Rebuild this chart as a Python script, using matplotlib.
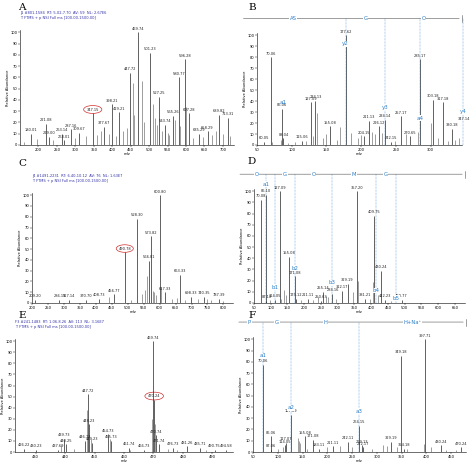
import matplotlib
matplotlib.use("Agg")
import matplotlib.pyplot as plt
from matplotlib.patches import Ellipse

# ---------------- data ----------------
A_mz = [180.01, 221.08, 229.00, 263.14, 268.01, 287.16, 309.67, 347.15, 377.67, 398.21, 419.21, 447.72, 469.74, 501.23, 527.25, 543.74, 565.26, 580.77, 596.28, 607.28, 635.29, 658.29, 689.82, 713.31]
A_int = [10, 19, 7, 10, 4, 14, 11, 28, 16, 36, 29, 64, 100, 82, 43, 18, 26, 60, 76, 28, 10, 12, 27, 24]
A_minor_mz = [160, 195, 240, 300, 330, 360, 370, 390, 410, 430, 440, 455, 460, 480, 485, 510, 515, 520, 535, 550, 555, 570, 585, 600, 620, 645, 670, 680, 700, 720]
A_minor_int = [3, 5, 4, 6, 8, 9, 12, 10, 8, 12, 15, 55, 27, 57, 20, 36, 24, 18, 12, 11, 9, 22, 17, 34, 6, 7, 9, 12, 10, 8]

B_mz = [60.05, 70.06, 86.06, 88.04, 115.06, 127.09, 134.13, 155.08, 177.62, 204.15, 211.13, 226.12, 234.14, 242.15, 257.17, 270.65, 285.17, 303.18, 317.18, 330.18, 347.14]
B_int = [3, 80, 33, 6, 4, 39, 40, 17, 100, 8, 22, 17, 23, 3, 26, 8, 78, 41, 39, 15, 20]
B_minor_mz = [72, 84, 95, 105, 120, 130, 137, 145, 150, 165, 170, 185, 195, 200, 215, 220, 230, 248, 265, 282, 300, 310, 325, 335, 340]
B_minor_int = [3, 5, 2, 3, 4, 8, 29, 6, 10, 5, 16, 11, 6, 9, 12, 10, 11, 4, 10, 12, 20, 6, 4, 5, 6]
B_seq = ["AS", "G", "O"]
B_ions = [("y2", 177.62), ("y3", 234.14), ("a4", 285.17), ("y4", 347.14)]

C_mz = [209.20, 286.15, 317.14, 370.70, 408.73, 456.77, 490.78, 528.30, 566.81, 573.82, 600.80, 617.33, 663.33, 698.33, 740.35, 787.39]
C_int = [3, 3, 3, 3, 4, 8, 47, 78, 39, 62, 100, 10, 26, 6, 6, 4]
C_minor_mz = [440, 510, 545, 555, 560, 578, 582, 590, 605, 640, 655, 680, 720, 750, 760, 800]
C_minor_int = [6, 3, 8, 12, 25, 11, 10, 7, 15, 4, 5, 3, 4, 4, 3, 2]

D_mz = [70.08, 86.10, 87.10, 114.05, 127.09, 155.08, 171.08, 175.12, 211.11, 250.63, 255.14, 284.16, 312.17, 329.19, 357.20, 381.21, 409.75, 430.24, 442.23, 490.77]
D_int = [92, 97, 2, 3, 100, 41, 24, 4, 4, 2, 10, 8, 11, 17, 100, 4, 78, 29, 3, 3]
D_minor_mz = [98, 130, 140, 145, 190, 225, 240, 265, 270, 295, 345, 360, 395, 405, 420, 460]
D_minor_int = [3, 4, 12, 7, 3, 3, 5, 6, 5, 4, 10, 20, 4, 19, 7, 2]
D_seq = ["O", "G", "O", "M", "G"]
D_ions = [("a1", 86.10), ("b1", 114.05), ("b2", 171.08), ("b3", 284.16), ("b4", 413.0), ("b5", 473.0)]

E_mz = [426.22, 430.23, 437.69, 439.73, 440.25, 446.73, 447.72, 448.23, 449.23, 454.73, 455.73, 461.74, 466.73, 469.74, 470.24, 470.74, 471.74, 476.73, 481.26, 485.71, 490.75, 494.58]
E_int = [3, 2, 2, 12, 7, 10, 52, 25, 8, 16, 10, 4, 2, 100, 47, 15, 7, 4, 5, 4, 2, 2]
E_minor_mz = [438.5, 443, 447.3, 448.7, 455.2, 462, 469.4, 470.5, 475, 478, 488]
E_minor_int = [6, 3, 38, 12, 12, 2, 30, 25, 3, 2, 2]

F_mz = [70.06, 86.06, 87.06, 114.05, 117.07, 127.09, 155.08, 171.08, 183.11, 211.11, 242.11, 264.15, 269.13, 272.17, 329.19, 349.18, 354.18, 397.71, 430.24, 470.24]
F_int = [77, 14, 2, 6, 8, 33, 14, 11, 3, 5, 9, 23, 6, 4, 9, 85, 3, 100, 6, 4]
F_minor_mz = [100, 110, 140, 142, 145, 160, 200, 225, 250, 290, 312, 320, 340, 360, 395, 410, 440, 460]
F_minor_int = [3, 4, 12, 10, 8, 3, 4, 5, 4, 3, 6, 5, 4, 3, 7, 4, 2, 2]
F_seq = ["P", "G", "H", "H+Na\u207a"]
F_ions = [("a1", 70.06), ("a2", 127.09), ("a3", 264.15)]

fig = plt.figure(figsize=(4.74, 4.74), dpi=100)
W = H = 474.0
blue = "#2a7fc9"
fs = 2.6

def ax_at(x0, y0, x1, y1):
    return fig.add_axes([x0 / W, 1 - y1 / H, (x1 - x0) / W, (y1 - y0) / H])

def spectrum(ax, mz, inten, mmz, mint, xlim, xticks, header=None, circle=None):
    ax.vlines(mmz, 0, mint, color="#555555", lw=0.4)
    ax.vlines(mz, 0, inten, color="#222222", lw=0.5)
    for m, i in zip(mz, inten):
        ax.text(m, i + 1.5, f"{m:.2f}", fontsize=fs, ha="center", va="bottom", color="#222222")
    ax.set_xlim(*xlim)
    ax.set_ylim(0, 102)
    ax.set_xticks(xticks)
    ax.set_yticks(range(0, 101, 10))
    ax.tick_params(labelsize=fs, length=1.2, width=0.3, pad=0.8)
    for s in ["top", "right"]:
        ax.spines[s].set_visible(False)
    for s in ["left", "bottom"]:
        ax.spines[s].set_linewidth(0.4)
    ax.set_xlabel("m/z", fontsize=fs, labelpad=0.5)
    ax.set_ylabel("Relative Abundance", fontsize=fs, labelpad=0.5)
    if header:
        ax.text(0.0, 1.09, header, transform=ax.transAxes, fontsize=fs, color="#3333aa", va="bottom")
    if circle is not None:
        m, i = circle
        w = (xlim[1] - xlim[0]) * 0.085
        ax.add_patch(Ellipse((m, i + 3.5), w, 7, fill=False, ec="#d03030", lw=0.5))

def sequence(ax, xlim, seq, cuts, ions, y_ion):
    ax.annotate("", xy=(1.0, 1.13), xytext=(-0.08, 1.13), xycoords="axes fraction",
                arrowprops=dict(arrowstyle="-", lw=0.4, color="#555555"), annotation_clip=False)
    ax.plot([1.0, 1.0], [1.10, 1.16], transform=ax.transAxes, color="#555555", lw=0.4, clip_on=False)
    edges = [xlim[0] - 0.08 * (xlim[1] - xlim[0])] + list(cuts)
    for k, s in enumerate(seq):
        mid = (edges[k] + edges[k + 1]) / 2
        ax.text(mid, 1.13, s, transform=ax.get_xaxis_transform(), fontsize=3.8, color=blue,
                ha="center", va="center", bbox=dict(fc="white", ec="none", pad=0.5), clip_on=False)
    for (name, m), yy in zip(ions, y_ion):
        ax.axvline(m, ymin=0, ymax=1.13, color=blue, lw=0.35, ls=(0, (1.5, 1.5)), clip_on=False)
        ax.text(m, yy, name, fontsize=4, color=blue, ha="center", va="bottom",
                bbox=dict(fc="white", ec="none", pad=0.3), clip_on=False)

# A
axA = ax_at(20, 30, 234, 145)
spectrum(axA, A_mz, A_int, A_minor_mz, A_minor_int, (150, 730), range(200, 701, 50),
         "J1 #801-1584  RT: 5.02-7.70  AV: 59  NL: 2.67E6\nT: FTMS + p NSI Full ms [100.00-1500.00]", circle=(347.15, 28))
# B
axB = ax_at(257, 33, 462, 145)
spectrum(axB, B_mz, B_int, B_minor_mz, B_minor_int, (50, 345), range(50, 301, 50))
sequence(axB, (50, 345), B_seq, [177.62, 234.14, 345], B_ions, [90, 32, 22, 28])
axB.text(88, 36, "a1", fontsize=4, color=blue, ha="center", va="bottom")
# C
axC = ax_at(32, 193, 233, 303)
spectrum(axC, C_mz, C_int, C_minor_mz, C_minor_int, (200, 830), range(200, 801, 50),
         "J4 #1491-2231  RT: 6.40-10.12  AV: 76  NL: 1.63E7\nT: FTMS + p NSI Full ms [100.00-1500.00]", circle=(490.78, 47))
# D
axD = ax_at(254, 189, 465, 303)
spectrum(axD, D_mz, D_int, D_minor_mz, D_minor_int, (50, 680), range(50, 651, 50))
sequence(axD, (50, 680), D_seq, [114.05, 171.08, 284.16, 413.0, 473.0], D_ions, [104, 12, 29, 16, 9, 2])
# E
axE = ax_at(15, 339, 233, 452)
spectrum(axE, E_mz, E_int, E_minor_mz, E_minor_int, (423, 497), range(430, 491, 10),
         "F3 #241-1483  RT: 1.06-8.26  AV: 113  NL: 3.16E7\nT: FTMS + p NSI Full ms [100.00-1500.00]", circle=(470.24, 47))
# F
axF = ax_at(253, 337, 466, 452)
spectrum(axF, F_mz, F_int, F_minor_mz, F_minor_int, (50, 480), range(50, 451, 50))
sequence(axF, (50, 480), F_seq, [70.06, 127.09, 264.15, 480], F_ions, [83, 37, 34])

for lab, x, y in [("A", 22, 8), ("B", 252, 7), ("C", 22, 163), ("D", 252, 161), ("E", 22, 316), ("F", 252, 316)]:
    fig.text(x / W, 1 - y / H, lab, fontsize=7.5, family="DejaVu Serif", ha="center", va="center")

fig.savefig("out.png", dpi=100)
